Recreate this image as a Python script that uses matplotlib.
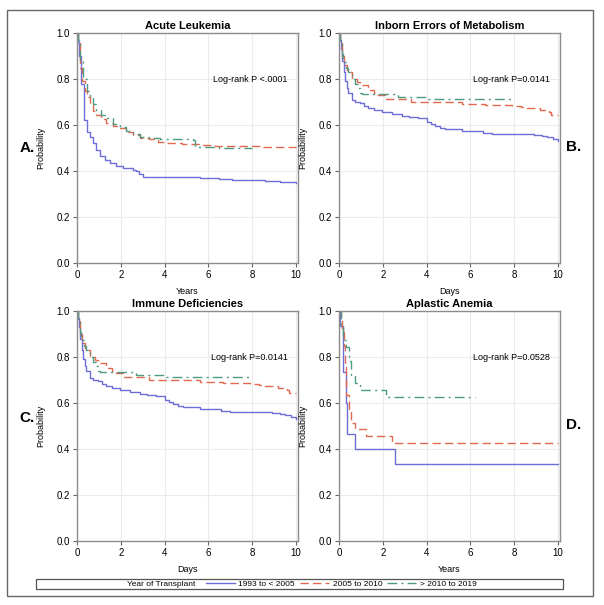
import matplotlib
matplotlib.use("Agg")
import matplotlib.pyplot as plt
from matplotlib.lines import Line2D
from matplotlib.patches import Rectangle

plt.rcParams['font.family'] = ['Liberation Sans', 'DejaVu Sans']

# ---------------- data ----------------
series_labels = ["1993 to < 2005", "2005 to 2010", "> 2010 to 2019"]
legend_title = "Year of Transplant"
panel_titles = ["Acute Leukemia", "Inborn Errors of Metabolism", "Immune Deficiencies", "Aplastic Anemia"]
panel_letters = ["A.", "B.", "C.", "D."]
x_labels = ["Years", "Days", "Days", "Years"]
pvalue_texts = ["Log-rank P <.0001", "Log-rank P=0.0141", "Log-rank P=0.0141", "Log-rank P=0.0528"]
x_ticks = [0, 2, 4, 6, 8, 10]
y_ticks = [0.0, 0.2, 0.4, 0.6, 0.8, 1.0]

# Acute Leukemia
al_blue_t = [0, 0.05, 0.1, 0.2, 0.33, 0.45, 0.59, 0.75, 0.89, 1.05, 1.27, 1.5, 1.8, 2.1, 2.55, 2.7, 2.85, 3.0,
             4.06, 5.0, 5.6, 6.5, 7.1, 8.0, 8.6, 9.3, 10]
al_blue_s = [1.0, 0.96, 0.9, 0.78, 0.62, 0.57, 0.55, 0.52, 0.49, 0.465, 0.448, 0.436, 0.423, 0.414, 0.405, 0.398,
             0.385, 0.376, 0.374, 0.372, 0.368, 0.366, 0.363, 0.359, 0.356, 0.352, 0.349]
al_red_t = [0, 0.05, 0.14, 0.25, 0.36, 0.47, 0.59, 0.75, 0.89, 1.1, 1.34, 1.65, 1.95, 2.25, 2.55, 2.9, 3.3, 3.7,
            4.06, 4.8, 5.6, 6.3, 7.1, 8.5, 10]
al_red_s = [1.0, 0.97, 0.85, 0.79, 0.75, 0.72, 0.686, 0.66, 0.643, 0.625, 0.61, 0.595, 0.585, 0.568, 0.556, 0.545,
            0.538, 0.527, 0.52, 0.516, 0.513, 0.51, 0.508, 0.505, 0.505]
al_green_t = [0, 0.05, 0.15, 0.29, 0.45, 0.59, 0.75, 0.89, 1.1, 1.34, 1.65, 1.95, 2.25, 2.55, 2.9, 3.3, 3.8, 4.4,
              5.3, 5.4, 6.5, 7.5, 8.0]
al_green_s = [1.0, 0.97, 0.88, 0.80, 0.75, 0.72, 0.69, 0.665, 0.645, 0.63, 0.605, 0.59, 0.575, 0.56, 0.548, 0.542,
              0.538, 0.537, 0.535, 0.505, 0.502, 0.50, 0.50]

# Inborn Errors of Metabolism / Immune Deficiencies
ie_blue_t = [0, 0.05, 0.1, 0.15, 0.22, 0.27, 0.35, 0.43, 0.58, 0.75, 0.96, 1.15, 1.34, 1.6, 1.95, 2.4, 2.86, 3.2,
             3.6, 4.0, 4.2, 4.38, 4.6, 4.83, 5.6, 6.6, 7.0, 7.4, 8.9, 9.3, 9.5, 9.8, 10]
ie_blue_s = [1.0, 0.97, 0.93, 0.88, 0.83, 0.79, 0.76, 0.737, 0.71, 0.70, 0.694, 0.683, 0.672, 0.665, 0.657, 0.648,
             0.639, 0.634, 0.629, 0.614, 0.605, 0.595, 0.588, 0.581, 0.574, 0.566, 0.562, 0.559, 0.556, 0.552,
             0.546, 0.538, 0.532]
ie_red_t = [0, 0.05, 0.12, 0.22, 0.35, 0.58, 0.8, 0.96, 1.34, 1.6, 1.8, 2.1, 2.86, 3.3, 4.4, 5.6, 6.65, 7.9, 8.3,
            8.6, 9.2, 9.6, 9.7, 10]
ie_red_s = [1.0, 0.96, 0.90, 0.86, 0.83, 0.80, 0.785, 0.773, 0.754, 0.74, 0.73, 0.712, 0.711, 0.70, 0.698, 0.69,
            0.686, 0.683, 0.68, 0.676, 0.667, 0.657, 0.643, 0.643]
ie_green_t = [0, 0.05, 0.12, 0.2, 0.3, 0.43, 0.6, 0.73, 0.85, 0.96, 1.03, 2.7, 4.07, 8.0]
ie_green_s = [1.0, 0.96, 0.91, 0.874, 0.85, 0.83, 0.80, 0.78, 0.76, 0.737, 0.733, 0.722, 0.712, 0.712]

# Aplastic Anemia
aa_blue_t = [0, 0.05, 0.17, 0.30, 0.35, 0.71, 2.55, 10]
aa_blue_s = [1.0, 0.933, 0.733, 0.600, 0.467, 0.400, 0.333, 0.333]
aa_red_t = [0, 0.08, 0.15, 0.22, 0.28, 0.31, 0.34, 0.45, 0.55, 0.75, 1.22, 2.4, 10]
aa_red_s = [1.0, 0.97, 0.909, 0.848, 0.758, 0.697, 0.636, 0.576, 0.515, 0.485, 0.455, 0.424, 0.424]
aa_green_t = [0, 0.1, 0.2, 0.3, 0.45, 0.55, 0.75, 0.95, 2.15, 6.2]
aa_green_s = [1.0, 0.94, 0.875, 0.844, 0.781, 0.719, 0.688, 0.656, 0.625, 0.625]

panels = [
    [(al_blue_t, al_blue_s), (al_red_t, al_red_s), (al_green_t, al_green_s)],
    [(ie_blue_t, ie_blue_s), (ie_red_t, ie_red_s), (ie_green_t, ie_green_s)],
    [(ie_blue_t, ie_blue_s), (ie_red_t, ie_red_s), (ie_green_t, ie_green_s)],
    [(aa_blue_t, aa_blue_s), (aa_red_t, aa_red_s), (aa_green_t, aa_green_s)],
]

# ---------------- style ----------------
colors = ['#6E6ED8', '#E2684E', '#4E9A82']
styles = ['-', (0, (6, 3)), (0, (7, 3, 1.5, 3))]

W, H = 604, 605
fig = plt.figure(figsize=(W / 100, H / 100), dpi=100)

def fx(px):
    return px / W

def fy(py):
    return 1 - py / H

# outer frame
fig.patches.append(Rectangle((fx(7), fy(596)), (593 - 7) / W, (596 - 10) / H,
                             transform=fig.transFigure, fill=False, edgecolor='#666666', lw=1.0))

axes_px = [(77, 33), (339, 33), (77, 311), (339, 311)]
aw, ah = 221, 230
letter_pos = [(27, 148), (574, 147), (27, 418), (574, 425)]

for i, (lx, ty) in enumerate(axes_px):
    ax = fig.add_axes([fx(lx), fy(ty + ah), aw / W, ah / H])
    for k, (t, s) in enumerate(panels[i]):
        ax.step(t, s, where='post', color=colors[k], linestyle=styles[k], lw=1.0)
    ax.set_xlim(0, 10.1)
    ax.set_ylim(0, 1.0)
    ax.set_xticks(x_ticks)
    ax.set_yticks(y_ticks)
    ax.set_yticklabels([f"{v:.1f}" for v in y_ticks])
    ax.grid(True, color='#ebebeb', lw=0.8)
    ax.set_axisbelow(True)
    for sp in ax.spines.values():
        sp.set_color('#8c8c8c')
        sp.set_linewidth(1.0)
    ax.tick_params(labelsize=7, length=3, width=0.8, color='#666666', pad=2)
    ax.set_title(panel_titles[i], fontsize=8, fontweight='bold', pad=3)
    ax.set_ylabel("Probability", fontsize=6.5, labelpad=8)
    ax.set_xlabel(x_labels[i], fontsize=6.5, labelpad=5)
    ax.text(7.9, 0.8, pvalue_texts[i], fontsize=6.5, ha='center', va='center')
    fig.text(fx(letter_pos[i][0]), fy(letter_pos[i][1]), panel_letters[i], fontsize=11,
             fontweight='bold', ha='center', va='center')

# legend box
fig.patches.append(Rectangle((fx(36), fy(589)), (563 - 36) / W, (589 - 579) / H,
                             transform=fig.transFigure, fill=False, edgecolor='#555555', lw=0.9))
fig.text(fx(195), fy(584), legend_title, fontsize=6, ha='right', va='center')
handles = [Line2D([], [], color=colors[k], linestyle=styles[k], lw=1.0) for k in range(3)]
leg = fig.legend(handles, series_labels, loc='center left', bbox_to_anchor=(fx(206), fy(584)), ncol=3,
                 fontsize=6, frameon=False, handlelength=3.5, handletextpad=0.4,
                 columnspacing=0.6, borderpad=0, borderaxespad=0)

fig.savefig("out.png", dpi=100)
